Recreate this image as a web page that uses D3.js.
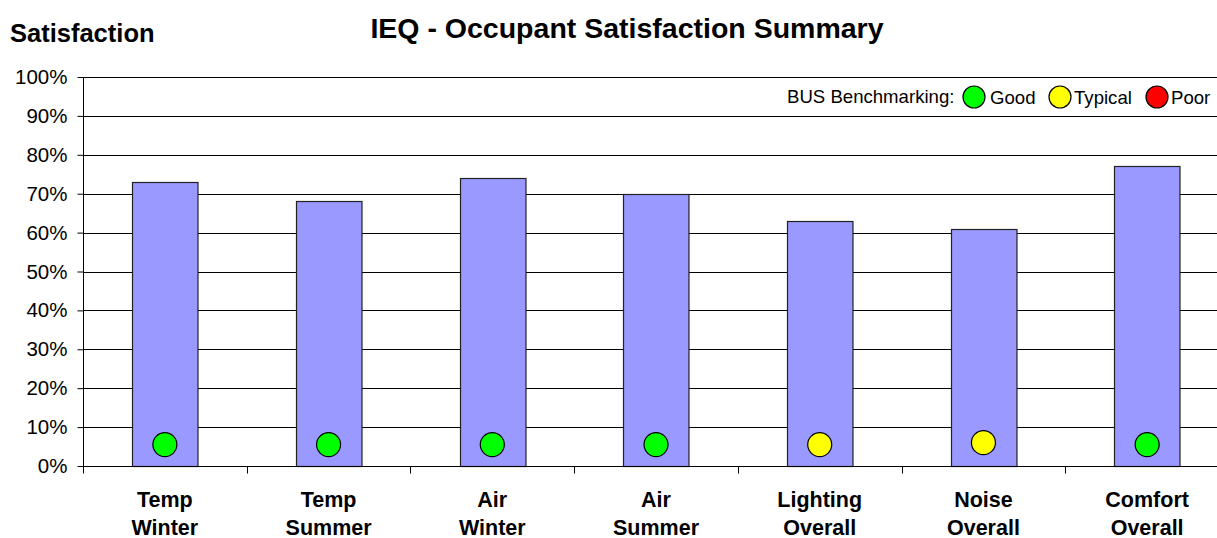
<!DOCTYPE html>
<html>
<head>
<meta charset="utf-8">
<script src="https://cdn.jsdelivr.net/npm/d3@7"></script>
<style>
  body { margin: 0; background: #fff; }
  .canvas { width: 1217px; height: 538px; overflow: hidden; }
  text { font-family: Arial, 'Liberation Sans', sans-serif; fill: #000; }
</style>
</head>
<body>
<div class="canvas"></div>
<script>
const categories = [
  ['Temp', 'Winter'],
  ['Temp', 'Summer'],
  ['Air', 'Winter'],
  ['Air', 'Summer'],
  ['Lighting', 'Overall'],
  ['Noise', 'Overall'],
  ['Comfort', 'Overall'],
];
const satisfaction = [0.73, 0.68, 0.74, 0.70, 0.63, 0.61, 0.77];
const benchmark = ['Good', 'Good', 'Good', 'Good', 'Typical', 'Typical', 'Good'];
const markerLevel = [0.055, 0.055, 0.055, 0.055, 0.055, 0.06, 0.055];
const yTicks = [0, 0.1, 0.2, 0.3, 0.4, 0.5, 0.6, 0.7, 0.8, 0.9, 1];
const legendLabels = ['Good', 'Typical', 'Poor'];
const legendColors = ['#00ff00', '#ffff00', '#ff0000'];

const COLOR = {
  bar: '#9999ff',
  line: '#000',
};

const margin = { top: 77, left: 83, bottom: 72 };
const plotW = 1146;
const plotH = 538 - margin.top - margin.bottom; // 389

const svg = d3
  .select('.canvas')
  .append('svg')
  .attr('width', 1217)
  .attr('height', 538);

const topGroup = svg
  .append('g')
  .attr('id', 'topGroup')
  .attr('transform', `translate(${margin.left},${margin.top})`);

const x = d3
  .scaleBand()
  .domain(categories.map(d => d.join(' ')))
  .range([0, plotW])
  .paddingInner(0.6)
  .paddingOuter(0.3);

const y = d3.scaleLinear().domain([0, 1]).range([plotH, 0]);

const status = d3.scaleOrdinal().domain(legendLabels).range(legendColors);

// gridlines
topGroup
  .append('g')
  .attr('id', 'grid')
  .selectAll('line')
  .data(yTicks)
  .join('line')
  .attr('x1', 0)
  .attr('x2', plotW)
  .attr('y1', d => Math.round(y(d)) + 0.5)
  .attr('y2', d => Math.round(y(d)) + 0.5)
  .attr('stroke', COLOR.line)
  .attr('stroke-width', 1);

// y axis
const yAxis = topGroup
  .append('g')
  .attr('transform', 'translate(0.5,0)')
  .call(
    d3
      .axisLeft(y)
      .tickValues(yTicks)
      .tickFormat(d3.format('.0%'))
      .tickSize(6)
      .tickPadding(10)
  );
yAxis.select('.domain').attr('stroke', COLOR.line).attr('d', `M0,0V${plotH}`);
yAxis.selectAll('.tick line').attr('stroke', COLOR.line);
yAxis
  .selectAll('.tick text')
  .attr('font-size', 20.5)
  .attr('font-family', 'Arial, Liberation Sans, sans-serif')
  .attr('fill', '#000');

// bars
topGroup
  .append('g')
  .attr('id', 'bars')
  .selectAll('rect')
  .data(satisfaction)
  .join('rect')
  .attr('x', (d, i) => Math.round(x(categories[i].join(' '))) + 0.5)
  .attr('y', d => Math.round(y(d)) + 0.5)
  .attr('width', x.bandwidth())
  .attr('height', d => plotH - Math.round(y(d)))
  .attr('fill', COLOR.bar)
  .attr('stroke', '#222')
  .attr('stroke-width', 1.2);

// x axis
const xAxis = topGroup
  .append('g')
  .attr('transform', `translate(0,${plotH + 0.5})`);
xAxis
  .append('line')
  .attr('x1', 0)
  .attr('x2', plotW)
  .attr('stroke', COLOR.line);
xAxis
  .selectAll('.xtick')
  .data(d3.range(categories.length + 1))
  .join('line')
  .attr('class', 'xtick')
  .attr('x1', i => Math.round(x.step() * i) + 0.5)
  .attr('x2', i => Math.round(x.step() * i) + 0.5)
  .attr('y1', 0)
  .attr('y2', 7)
  .attr('stroke', COLOR.line);

const xLabels = xAxis
  .selectAll('text')
  .data(categories)
  .join('text')
  .attr('text-anchor', 'middle')
  .attr('font-size', 21.5)
  .attr('font-weight', 'bold')
  .attr('x', d => x(d.join(' ')) + x.bandwidth() / 2)
  .attr('y', 40);
xLabels
  .selectAll('tspan')
  .data(d => d)
  .join('tspan')
  .attr('x', function () {
    return d3.select(this.parentNode).attr('x');
  })
  .attr('dy', (d, i) => (i === 0 ? 0 : 28))
  .text(d => d);

// benchmark markers
topGroup
  .append('g')
  .attr('id', 'markers')
  .selectAll('circle')
  .data(benchmark)
  .join('circle')
  .attr('cx', (d, i) => x(categories[i].join(' ')) + x.bandwidth() / 2)
  .attr('cy', (d, i) => y(markerLevel[i]))
  .attr('r', 12)
  .attr('fill', d => status(d))
  .attr('stroke', '#000')
  .attr('stroke-width', 1.2);

// titles
svg
  .append('text')
  .attr('x', 627)
  .attr('y', 38)
  .attr('text-anchor', 'middle')
  .attr('font-size', 28.5)
  .attr('font-weight', 'bold')
  .text('IEQ - Occupant Satisfaction Summary');

svg
  .append('text')
  .attr('x', 10)
  .attr('y', 42)
  .attr('font-size', 25.5)
  .attr('font-weight', 'bold')
  .text('Satisfaction');

// legend
const legend = svg.append('g').attr('id', 'legend');
legend
  .append('text')
  .attr('x', 787)
  .attr('y', 103)
  .attr('font-size', 18.6)
  .text('BUS Benchmarking:');

const legendX = [974, 1060, 1157];
const legendItems = legend
  .selectAll('g.item')
  .data(legendLabels)
  .join('g')
  .attr('class', 'item')
  .attr('transform', (d, i) => `translate(${legendX[i]},97)`);
legendItems
  .append('circle')
  .attr('r', 11)
  .attr('fill', d => status(d))
  .attr('stroke', '#000')
  .attr('stroke-width', 1.2);
legendItems
  .append('text')
  .attr('x', (d, i) => (i === 0 ? 16 : 14))
  .attr('y', 6.5)
  .attr('font-size', 18.6)
  .text(d => d);
</script>
</body>
</html>
